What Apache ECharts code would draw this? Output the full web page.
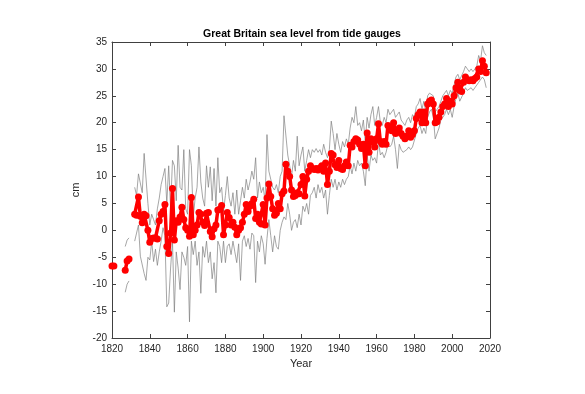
<!DOCTYPE html>
<html>
<head>
<meta charset="utf-8">
<script src="https://cdn.jsdelivr.net/npm/echarts@6/dist/echarts.min.js"></script>
<style>html,body{margin:0;padding:0;background:#fff}#c{width:585px;height:394px}</style>
</head>
<body>
<div id="c"></div>
<script>
const startYear = 1820;
const xTicks = [1820, 1840, 1860, 1880, 1900, 1920, 1940, 1960, 1980, 2000, 2020];
const yTicks = [-20, -15, -10, -5, 0, 5, 10, 15, 20, 25, 30, 35];

// annual mean sea level (cm), 1820..2018; null = no data
const seaLevel = [
 -6.6,-6.6,null,null,null,null,null,-7.4,-5.7,-5.3,
 null,null,3.0,2.8,6.2,2.6,1.4,3.0,2.7,0.0,
 -2.2,-1.5,-1.4,-1.4,-1.6,1.8,3.0,3.5,4.8,-3.0,
 -4.3,-0.5,7.8,-1.8,1.8,1.5,2.5,4.3,2.0,0.5,
 0.0,-1.1,6.1,-0.8,0.0,1.0,3.3,3.0,1.5,0.9,
 3.2,3.3,-0.2,-1.2,0.3,1.0,3.8,3.9,4.6,-0.8,
 1.0,3.3,2.4,1.0,1.5,0.6,-0.8,0.0,0.5,1.5,
 3.0,4.8,3.5,4.5,5.0,5.8,2.2,3.0,1.5,1.2,
 4.8,1.0,6.0,8.6,6.3,4.0,2.8,3.2,5.0,4.0,
 6.8,7.3,12.3,11.0,10.0,7.5,6.3,6.5,7.0,6.8,
 8.5,10.0,6.4,9.5,11.0,12.0,11.5,11.3,11.5,11.2,
 11.6,12.0,11.0,12.5,8.5,11.0,14.3,14.0,12.2,11.7,
 13.0,11.5,11.3,12.0,12.7,12.0,15.8,15.5,16.5,17.0,
 16.8,16.0,15.2,16.0,12.0,18.1,14.5,17.0,16.8,15.5,
 17.0,19.8,16.5,16.0,16.5,16.0,19.5,18.8,18.5,20.0,
 18.0,18.5,19.0,18.0,17.5,17.0,17.5,18.5,17.3,17.8,
 18.5,20.8,21.5,22.0,20.0,22.0,20.0,23.5,24.0,24.2,
 23.5,20.0,20.2,21.0,22.0,23.0,23.5,24.5,23.0,24.0,
 23.5,25.0,26.5,27.5,26.0,25.8,27.5,28.5,28.0,27.8,
 28.0,27.8,28.2,28.5,30.0,29.5,31.5,30.5,29.3
];

// upper bound (cm), 1820..2018
const upperBound = [
 null,null,null,null,null,null,null,-3.0,-1.8,-1.4,
 null,null,8.0,6.5,10.5,10.6,7.0,14.3,14.6,5.0,
 1.0,3.0,2.0,1.0,4.0,6.0,8.5,10.0,11.5,5.0,
 12.0,4.0,13.0,12.0,5.5,15.8,8.0,7.5,15.0,4.0,
 3.0,15.0,12.0,2.5,6.0,8.0,15.5,9.0,6.0,4.5,
 12.0,8.0,11.8,5.5,11.5,4.5,13.5,7.0,8.0,3.5,
 6.5,10.0,6.0,4.5,7.0,3.0,7.5,3.0,5.5,8.0,
 6.0,9.5,7.5,9.0,11.0,9.5,13.5,6.0,9.0,7.0,
 8.0,5.5,17.8,11.0,9.5,8.0,7.5,8.5,7.0,10.0,
 11.0,21.3,21.0,14.0,12.0,10.0,13.0,11.0,17.5,12.0,
 14.0,15.5,11.0,13.0,15.0,13.5,15.0,14.5,15.2,14.5,
 15.0,14.0,16.0,14.5,13.5,15.0,20.3,18.0,15.0,18.0,
 16.0,14.5,16.5,15.5,17.0,16.0,19.0,21.0,20.0,23.0,
 19.5,20.0,18.5,20.5,16.5,21.0,19.0,21.5,23.0,19.5,
 21.0,23.0,20.0,19.5,21.0,20.0,22.5,21.5,21.5,22.5,
 21.0,21.5,22.0,20.5,20.0,19.5,20.5,21.0,20.0,21.5,
 21.0,23.0,23.5,24.5,22.5,24.0,22.0,25.0,25.5,25.5,
 25.0,22.0,22.5,23.0,24.0,25.0,25.5,26.0,25.0,26.0,
 25.5,27.0,28.5,29.0,28.0,28.0,29.5,30.5,30.0,29.5,
 30.0,29.5,30.0,30.5,32.5,31.5,34.3,33.0,32.5
];

// lower bound (cm), 1820..2018
const lowerBound = [
 null,null,null,null,null,null,null,-11.5,-10.0,-9.4,
 null,null,-2.0,-0.5,1.0,-4.8,-4.5,-8.0,-9.3,-5.0,
 -5.5,-2.0,-5.8,-3.5,-6.5,-4.0,-2.0,0.5,-1.0,-14.2,
 -13.5,-7.0,-2.0,-15.2,-4.0,-7.0,-11.0,-4.0,-5.0,-6.5,
 -3.0,-17.0,-2.0,-4.5,-2.0,-6.5,-4.0,-11.7,-3.0,-5.0,
 -2.0,-6.0,-4.0,-9.0,-6.0,-11.6,-2.0,-3.0,-6.0,-2.0,
 -6.0,-3.0,-2.5,-4.5,-2.0,-4.0,-6.0,-2.5,-9.3,-2.0,
 -1.0,-3.0,-1.5,-3.5,-0.5,-1.0,-9.7,-2.0,-4.0,-1.0,
 -2.5,-6.3,-1.5,2.0,-1.0,-4.0,-1.0,-3.0,-3.5,0.0,
 1.5,2.5,2.0,5.0,3.0,0.0,1.5,2.0,0.5,3.0,
 1.0,4.5,3.5,5.0,3.0,6.5,7.0,8.0,6.0,8.5,
 7.0,8.0,6.0,7.5,3.0,6.5,9.5,8.0,9.5,7.5,
 9.0,8.0,9.5,8.5,9.5,10.0,12.0,10.5,12.5,11.0,
 13.0,12.0,12.5,11.0,8.3,14.0,11.0,14.0,13.0,13.5,
 12.5,16.5,14.0,14.5,13.5,14.5,16.0,15.5,16.0,17.5,
 15.0,11.5,16.0,15.0,14.5,14.5,15.0,15.5,15.0,15.5,
 15.5,18.0,19.0,19.5,18.0,19.0,18.0,21.0,22.0,22.5,
 21.0,17.0,18.0,19.0,20.5,21.0,21.5,22.5,21.5,22.5,
 21.0,23.0,24.5,25.5,24.0,24.0,25.5,26.5,26.0,26.0,
 26.5,26.0,26.5,26.5,27.5,27.5,28.5,28.0,26.5
];

function pairs(arr) {
  return arr.map(function (v, i) { return [startYear + i, v]; });
}

const axisColor = '#404040';
const font = 'Liberation Sans, Arial, sans-serif';
const labelStyle = { color: '#262626', fontFamily: font, fontSize: 10 };

function boxAxis(pos, min, max, interval) {
  return {
    type: 'value', position: pos, min: min, max: max, interval: interval,
    axisLine: { show: true, onZero: false, lineStyle: { color: axisColor, width: 1 } },
    axisTick: { show: true, inside: true, length: 4, lineStyle: { color: axisColor } },
    axisLabel: { show: false }, splitLine: { show: false }
  };
}

const chart = echarts.init(document.getElementById('c'), null, { renderer: 'canvas' });
chart.setOption({
  animation: false,
  backgroundColor: '#fff',
  title: {
    text: 'Great Britain sea level from tide gauges',
    left: 302, top: 29, textAlign: 'center', padding: 0,
    textStyle: { color: '#000', fontFamily: font, fontSize: 10.5, fontWeight: 'bold' }
  },
  grid: { left: 112, right: 95, top: 42, bottom: 56, containLabel: false },
  xAxis: [{
    type: 'value', position: 'bottom', min: xTicks[0], max: xTicks[xTicks.length - 1], interval: 20,
    name: 'Year', nameLocation: 'middle', nameGap: 19,
    nameTextStyle: { color: '#262626', fontFamily: font, fontSize: 11 },
    axisLine: { show: true, onZero: false, lineStyle: { color: axisColor, width: 1 } },
    axisTick: { show: true, inside: true, length: 4, lineStyle: { color: axisColor } },
    axisLabel: Object.assign({ margin: 6, formatter: function (v) { return String(v); } }, labelStyle),
    splitLine: { show: false }
  }, boxAxis('top', xTicks[0], xTicks[xTicks.length - 1], 20)],
  yAxis: [{
    type: 'value', position: 'left', min: yTicks[0], max: yTicks[yTicks.length - 1], interval: 5,
    name: 'cm', nameLocation: 'middle', nameGap: 22, nameRotate: 90,
    nameTextStyle: { color: '#262626', fontFamily: font, fontSize: 11 },
    axisLine: { show: true, onZero: false, lineStyle: { color: axisColor, width: 1 } },
    axisTick: { show: true, inside: true, length: 4, lineStyle: { color: axisColor } },
    axisLabel: Object.assign({ margin: 5 }, labelStyle),
    splitLine: { show: false }
  }, boxAxis('right', yTicks[0], yTicks[yTicks.length - 1], 5)],
  series: [{
    type: 'line', name: 'upper', data: pairs(upperBound), showSymbol: false, symbol: 'none',
    lineStyle: { color: '#808080', width: 0.7 }, z: 2
  }, {
    type: 'line', name: 'lower', data: pairs(lowerBound), showSymbol: false, symbol: 'none',
    lineStyle: { color: '#808080', width: 0.7 }, z: 2
  }, {
    type: 'line', name: 'sea level', data: pairs(seaLevel), symbol: 'circle', symbolSize: 7,
    showAllSymbol: true,
    lineStyle: { color: '#ff0000', width: 3.5 }, itemStyle: { color: '#ff0000' }, z: 3
  }]
});
</script>
</body>
</html>
